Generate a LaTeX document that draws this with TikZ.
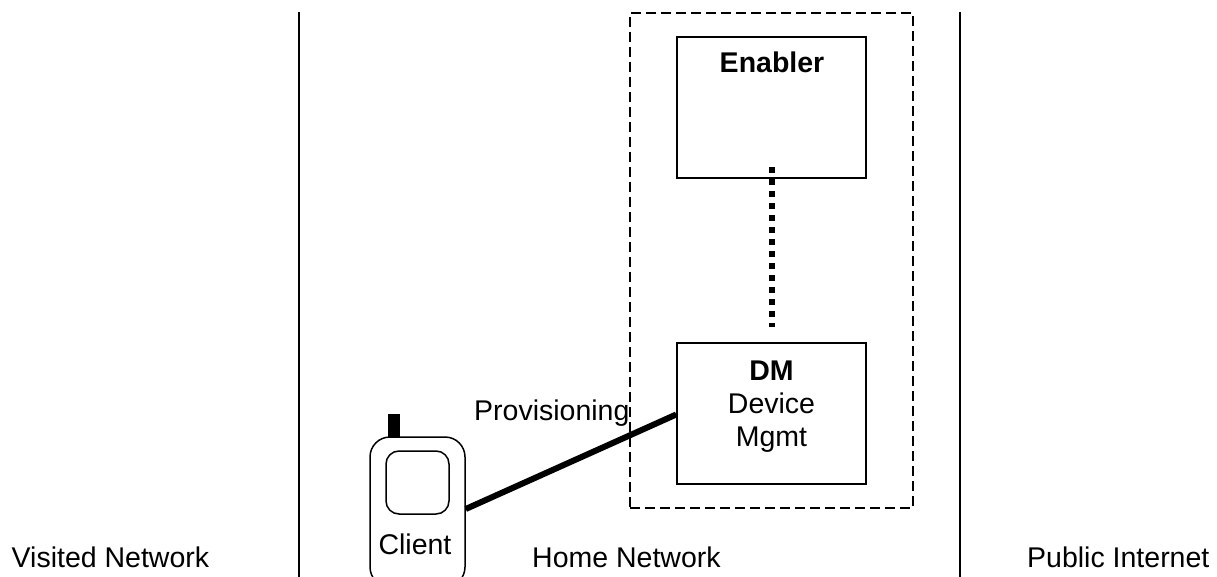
\documentclass[tikz,border=0pt]{standalone}
\usepackage{fontspec}
\setmainfont{Liberation Sans}
\tikzset{
  lbl/.style={anchor=base,inner sep=0pt,font=\fontsize{28.5}{33}\selectfont,text=black},
  boxn/.style={draw=black,line width=1.6pt,minimum width=189pt,minimum height=141pt,inner sep=0pt},
  sep/.style={draw=black,line width=1.5pt},
  fence/.style={draw=black,line width=1.6pt,dash pattern=on 10pt off 5pt,minimum width=283pt,minimum height=495pt,inner sep=0pt},
  thick line/.style={draw=black,line width=6pt},
}
\begin{document}
\begin{tikzpicture}[x=1pt,y=-1pt]
\useasboundingbox (0,0) rectangle (1217,577);
\clip (0,0) rectangle (1217,577);
\coordinate (s1a) at (299,12); \coordinate (s1b) at (299,577);
\coordinate (s2a) at (960,12); \coordinate (s2b) at (960,577);
\draw[sep] (s1a) -- (s1b);
\draw[sep] (s2a) -- (s2b);
\node[fence] (fence) at (771.5,260.5) {};
\node[boxn] (enabler) at (771.5,107.5) {};
\node[boxn] (dm) at (771.5,413.5) {};
\node[draw=black,line width=1.5pt,rounded corners=20pt,minimum width=95pt,minimum height=150pt,inner sep=0pt] (phone) at (417.5,512) {};
\node[draw=black,line width=1.5pt,rounded corners=13pt,minimum width=63pt,minimum height=63pt,inner sep=0pt] (screen) at (417.5,482.5) {};
\node[fill=black,minimum width=12pt,minimum height=23pt,inner sep=0pt] (antenna) at (394,425.5) {};
\draw[thick line] ([yshift=3pt]phone.east) -- ([yshift=-1pt]dm.west);
\draw[thick line,dash pattern=on 6pt off 6pt] ([yshift=12pt]enabler.south) -- ([yshift=15pt]dm.north);
\node[lbl] (tenabler) at (772,73) {\bfseries Enabler};
\node[lbl] (tdm) at (771.5,380) {\bfseries DM};
\node[lbl] (tdev) at (771.5,413) {Device};
\node[lbl] (tmgmt) at (771.5,446) {Mgmt};
\node[lbl,anchor=base west] (tprov) at (474,420) {Provisioning};
\node[lbl] (tclient) at (415,554) {Client};
\node[lbl,anchor=base west] (tvis) at (11.5,567) {Visited Network};
\node[lbl,anchor=base west] (thome) at (532,567) {Home Network};
\node[lbl,anchor=base west] (tpub) at (1027,567) {Public Internet};
\end{tikzpicture}
\end{document}
